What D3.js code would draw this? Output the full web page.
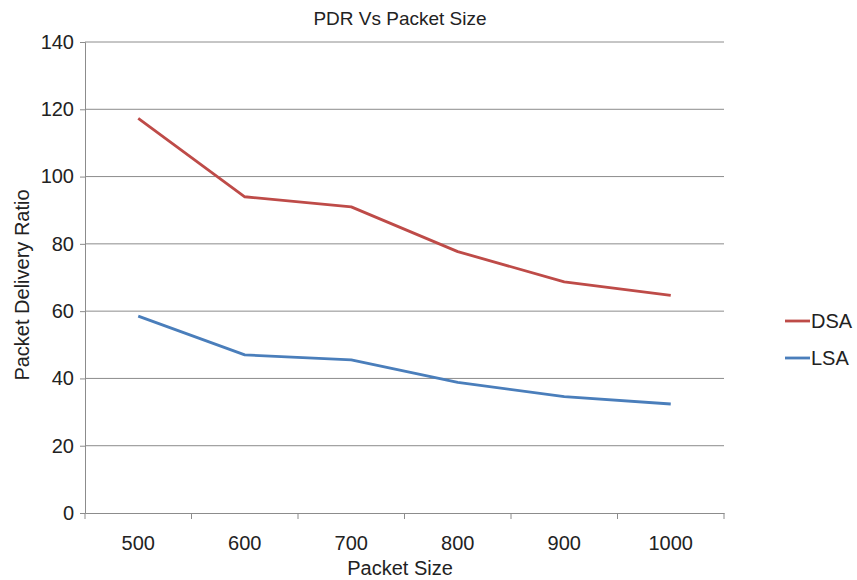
<!DOCTYPE html>
<html>
<head>
<meta charset="utf-8">
<script src="https://cdn.jsdelivr.net/npm/d3@7"></script>
<style>
  body { margin: 0; background: #fff; }
  text { font-family: "Liberation Sans", Arial, sans-serif; fill: #222; }
</style>
</head>
<body>
<div id="chart"></div>
<script>
// chart data
var packetSizes = ["500", "600", "700", "800", "900", "1000"];
var dsaValues = [117.3, 94.0, 91.0, 77.7, 68.7, 64.7];
var lsaValues = [58.5, 47.0, 45.5, 38.8, 34.6, 32.4];
var yTicks = [0, 20, 40, 60, 80, 100, 120, 140];
var seriesNames = ["DSA", "LSA"];
var seriesColors = ["#be4b48", "#4a7ebb"];

var width = 857, height = 580;
var margin = { top: 42, left: 85, right: 133, bottom: 67 };
var innerW = width - margin.left - margin.right;
var innerH = height - margin.top - margin.bottom;

var svg = d3.select("#chart").append("svg")
    .attr("width", width)
    .attr("height", height);

var g = svg.append("g").attr("transform", "translate(" + margin.left + "," + margin.top + ")");

var x = d3.scaleBand().domain(packetSizes).range([0, innerW]);
var y = d3.scaleLinear().domain([0, 140]).range([innerH, 0]);

// horizontal gridlines
g.selectAll(".grid").data(yTicks.slice(1)).enter().append("line")
    .attr("x1", 0).attr("x2", innerW)
    .attr("y1", d => y(d)).attr("y2", d => y(d))
    .attr("stroke", "#8c8c8c").attr("stroke-width", 1);

// y axis
var yAxis = g.append("g").call(d3.axisLeft(y).tickValues(yTicks).tickSize(5).tickPadding(6));
yAxis.select(".domain").attr("stroke", "#8c8c8c");
yAxis.selectAll(".tick line").attr("stroke", "#8c8c8c");
yAxis.selectAll(".tick text").attr("font-size", "20px").attr("fill", "#222");

// x axis, ticks on band edges
var xAxis = g.append("g").attr("transform", "translate(0," + innerH + ")")
    .call(d3.axisBottom(x).tickSize(0).tickPadding(23));
xAxis.select(".domain").attr("stroke", "#8c8c8c");
xAxis.selectAll(".tick text").attr("font-size", "20px").attr("fill", "#222");
g.selectAll(".xedge").data(packetSizes).enter().append("line")
    .attr("x1", d => x(d) + x.bandwidth()).attr("x2", d => x(d) + x.bandwidth())
    .attr("y1", innerH).attr("y2", innerH + 6)
    .attr("stroke", "#8c8c8c");
g.append("line").attr("x1", 0).attr("x2", 0).attr("y1", innerH).attr("y2", innerH + 6).attr("stroke", "#8c8c8c");

// lines
var line = d3.line()
    .x((d, i) => x(packetSizes[i]) + x.bandwidth() / 2)
    .y(d => y(d));

[dsaValues, lsaValues].forEach(function (vals, i) {
    g.append("path")
        .datum(vals)
        .attr("fill", "none")
        .attr("stroke", seriesColors[i])
        .attr("stroke-width", 2.8)
        .attr("stroke-linejoin", "round")
        .attr("d", line);
});

// legend
var legend = svg.append("g").attr("transform", "translate(785,321)");
seriesNames.forEach(function (name, i) {
    var row = legend.append("g").attr("transform", "translate(0," + (i * 37) + ")");
    row.append("line").attr("x1", 0).attr("x2", 25).attr("y1", 0).attr("y2", 0)
        .attr("stroke", seriesColors[i]).attr("stroke-width", 2.8);
    row.append("text").attr("x", 26).attr("y", 7).attr("font-size", "20px").text(name);
});

// titles
svg.append("text").attr("x", 400).attr("y", 25).attr("text-anchor", "middle")
    .attr("font-size", "19px").text("PDR Vs Packet Size");
svg.append("text").attr("x", 400).attr("y", 575).attr("text-anchor", "middle")
    .attr("font-size", "20px").text("Packet Size");
svg.append("text").attr("transform", "translate(29,285) rotate(-90)").attr("text-anchor", "middle")
    .attr("font-size", "20px").text("Packet Delivery Ratio");
</script>
</body>
</html>
